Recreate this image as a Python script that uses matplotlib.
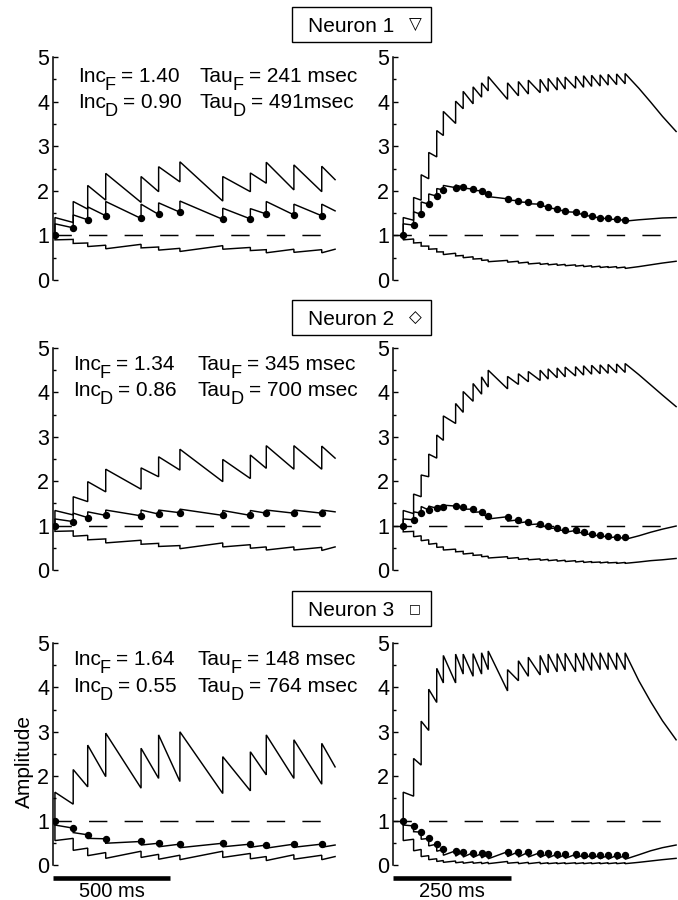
import matplotlib
matplotlib.use('Agg')
import matplotlib.pyplot as plt
from matplotlib.ticker import MultipleLocator
from matplotlib.patches import Rectangle

plt.rcParams['font.family'] = ['Liberation Sans', 'DejaVu Sans']
plt.rcParams['lines.scale_dashes'] = False

# ---------------- data ----------------
# spike times (ms)
LEFT_SPIKES = [0, 78, 140, 217, 368, 443, 534, 717, 835, 903, 1021, 1140]
LEFT_TAIL_T = [1197]
RIGHT_SPIKES = [21, 43, 59, 75, 92, 106, 132, 148, 169, 187, 201, 242, 265,
                286, 311, 328, 347, 364, 386, 403, 420, 438, 455, 473, 491]
RIGHT_TAIL_T = [520, 545, 570, 599]

NEURON_LABELS = ["Neuron 1", "Neuron 2", "Neuron 3"]
NEURON_SYMBOLS = ["\u25BD", "\u25C7", "\u25A1"]
INC_F = ["1.40", "1.34", "1.64"]
INC_D = ["0.90", "0.86", "0.55"]
TAU_F = ["241 msec", "345 msec", "148 msec"]
TAU_D = ["491msec", "700 msec", "764 msec"]

# Neuron 1, natural train
N1_L_F_PRE = [1.00, 1.29, 1.59, 1.79, 1.74, 1.98, 2.20, 1.77, 1.98, 2.17, 2.02, 1.98]
N1_L_F_POST = [1.40, 1.76, 2.12, 2.39, 2.32, 2.54, 2.65, 2.32, 2.40, 2.64, 2.58, 2.55]
N1_L_F_TAIL = [2.25]
N1_L_P_PRE = [1.00, 1.17, 1.35, 1.44, 1.38, 1.47, 1.52, 1.36, 1.37, 1.48, 1.46, 1.44]
N1_L_P_POST = [1.26, 1.46, 1.64, 1.76, 1.70, 1.73, 1.77, 1.61, 1.60, 1.76, 1.70, 1.70]
N1_L_P_TAIL = [1.55]
N1_L_D_PRE = [1.00, 0.91, 0.83, 0.78, 0.80, 0.74, 0.71, 0.77, 0.73, 0.68, 0.69, 0.68]
N1_L_D_POST = [0.90, 0.82, 0.75, 0.70, 0.72, 0.67, 0.64, 0.69, 0.66, 0.61, 0.62, 0.61]
N1_L_D_TAIL = [0.69]

# Neuron 1, regular train
N1_R_F_PRE = [1.00, 1.34, 1.79, 2.27, 2.76, 3.24, 3.51, 3.84, 3.95, 4.10, 4.24, 4.05, 4.13,
              4.17, 4.20, 4.23, 4.26, 4.28, 4.30, 4.32, 4.34, 4.35, 4.37, 4.38, 4.40]
N1_R_F_POST = [1.40, 1.85, 2.36, 2.86, 3.35, 3.78, 4.01, 4.23, 4.33, 4.42, 4.56, 4.42, 4.45,
               4.48, 4.50, 4.52, 4.54, 4.55, 4.57, 4.58, 4.59, 4.60, 4.61, 4.62, 4.63]
N1_R_F_TAIL = [4.30, 3.99, 3.67, 3.33]
N1_R_P_PRE = [1.00, 1.23, 1.47, 1.70, 1.88, 2.02, 2.07, 2.08, 2.04, 2.00, 1.93, 1.82, 1.78,
              1.74, 1.70, 1.64, 1.59, 1.55, 1.52, 1.47, 1.43, 1.40, 1.38, 1.36, 1.35]
N1_R_P_POST = [1.26, 1.53, 1.75, 1.93, 2.05, 2.12, 2.13, 2.06, 2.01, 1.94, 1.87, 1.79, 1.75,
               1.71, 1.67, 1.62, 1.57, 1.53, 1.50, 1.45, 1.41, 1.38, 1.36, 1.34, 1.32]
N1_R_P_TAIL = [1.35, 1.37, 1.39, 1.40]
N1_R_D_PRE = [1.00, 0.92, 0.84, 0.76, 0.70, 0.63, 0.60, 0.55, 0.52, 0.48, 0.45, 0.44, 0.42,
              0.40, 0.38, 0.37, 0.36, 0.35, 0.34, 0.33, 0.32, 0.31, 0.30, 0.30, 0.29]
N1_R_D_POST = [0.90, 0.83, 0.76, 0.69, 0.63, 0.57, 0.54, 0.50, 0.47, 0.44, 0.41, 0.40, 0.38,
               0.36, 0.35, 0.34, 0.33, 0.32, 0.31, 0.30, 0.29, 0.28, 0.28, 0.27, 0.26]
N1_R_D_TAIL = [0.30, 0.34, 0.38, 0.42]

# Neuron 2, natural train
N2_L_F_PRE = [1.00, 1.24, 1.54, 1.76, 1.82, 2.10, 2.25, 1.99, 2.06, 2.29, 2.27, 2.27]
N2_L_F_POST = [1.34, 1.65, 1.99, 2.27, 2.30, 2.55, 2.72, 2.49, 2.59, 2.80, 2.80, 2.79]
N2_L_F_TAIL = [2.52]
N2_L_P_PRE = [1.00, 1.09, 1.18, 1.23, 1.22, 1.26, 1.29, 1.23, 1.23, 1.28, 1.28, 1.28]
N2_L_P_POST = [1.15, 1.28, 1.31, 1.35, 1.35, 1.35, 1.37, 1.34, 1.34, 1.35, 1.35, 1.35]
N2_L_P_TAIL = [1.31]
N2_L_D_PRE = [1.00, 0.88, 0.78, 0.70, 0.67, 0.60, 0.55, 0.61, 0.57, 0.52, 0.52, 0.51]
N2_L_D_POST = [0.87, 0.76, 0.68, 0.61, 0.58, 0.53, 0.48, 0.52, 0.49, 0.45, 0.45, 0.44]
N2_L_D_TAIL = [0.52]

# Neuron 2, regular train
N2_R_F_PRE = [1.00, 1.27, 1.65, 2.10, 2.52, 2.92, 3.30, 3.55, 3.80, 3.96, 4.12, 4.08, 4.18,
              4.24, 4.27, 4.30, 4.33, 4.35, 4.37, 4.39, 4.41, 4.42, 4.43, 4.44, 4.45]
N2_R_F_POST = [1.34, 1.71, 2.14, 2.61, 3.04, 3.47, 3.75, 4.02, 4.20, 4.35, 4.50, 4.36, 4.42,
               4.47, 4.50, 4.53, 4.55, 4.57, 4.58, 4.60, 4.61, 4.62, 4.63, 4.64, 4.65]
N2_R_F_TAIL = [4.40, 4.17, 3.94, 3.68]
N2_R_P_PRE = [1.00, 1.13, 1.28, 1.35, 1.39, 1.43, 1.44, 1.41, 1.37, 1.31, 1.22, 1.20, 1.13,
              1.09, 1.04, 0.99, 0.95, 0.90, 0.89, 0.85, 0.81, 0.79, 0.77, 0.75, 0.74]
N2_R_P_POST = [1.15, 1.31, 1.43, 1.44, 1.44, 1.46, 1.41, 1.37, 1.30, 1.24, 1.15, 1.10, 1.06,
               1.02, 0.98, 0.93, 0.89, 0.85, 0.83, 0.80, 0.76, 0.74, 0.72, 0.70, 0.69]
N2_R_P_TAIL = [0.77, 0.85, 0.92, 0.99]
N2_R_D_PRE = [1.00, 0.87, 0.77, 0.68, 0.60, 0.52, 0.47, 0.42, 0.38, 0.34, 0.31, 0.30, 0.28,
              0.26, 0.25, 0.24, 0.23, 0.22, 0.21, 0.20, 0.19, 0.18, 0.18, 0.17, 0.17]
N2_R_D_POST = [0.86, 0.75, 0.66, 0.58, 0.51, 0.45, 0.41, 0.36, 0.33, 0.30, 0.27, 0.26, 0.24,
               0.23, 0.22, 0.21, 0.20, 0.19, 0.18, 0.17, 0.17, 0.16, 0.16, 0.15, 0.15]
N2_R_D_TAIL = [0.18, 0.21, 0.23, 0.26]

# Neuron 3, natural train
N3_L_F_PRE = [1.00, 1.37, 1.76, 1.99, 1.73, 1.95, 1.88, 1.61, 1.67, 2.03, 1.95, 1.82]
N3_L_F_POST = [1.64, 2.15, 2.70, 2.97, 2.63, 2.93, 3.00, 2.44, 2.55, 2.93, 2.82, 2.74]
N3_L_F_TAIL = [2.21]
N3_L_P_PRE = [1.00, 0.83, 0.68, 0.59, 0.53, 0.49, 0.47, 0.49, 0.47, 0.45, 0.47, 0.47]
N3_L_P_POST = [0.90, 0.73, 0.60, 0.49, 0.45, 0.41, 0.39, 0.41, 0.40, 0.38, 0.40, 0.40]
N3_L_P_TAIL = [0.45]
N3_L_D_PRE = [1.00, 0.60, 0.38, 0.28, 0.31, 0.24, 0.22, 0.31, 0.26, 0.19, 0.23, 0.22]
N3_L_D_POST = [0.55, 0.33, 0.21, 0.15, 0.17, 0.13, 0.12, 0.17, 0.14, 0.10, 0.13, 0.12]
N3_L_D_TAIL = [0.19]

# Neuron 3, regular train
N3_R_F_PRE = [1.00, 1.55, 2.25, 3.03, 3.66, 4.10, 4.10, 4.30, 4.25, 4.30, 4.40, 3.92, 4.15,
              4.25, 4.28, 4.33, 4.35, 4.37, 4.35, 4.38, 4.38, 4.40, 4.40, 4.40, 4.40]
N3_R_F_POST = [1.64, 2.40, 3.24, 3.96, 4.43, 4.72, 4.75, 4.75, 4.76, 4.78, 4.82, 4.40, 4.60,
               4.68, 4.72, 4.75, 4.76, 4.77, 4.77, 4.78, 4.78, 4.78, 4.78, 4.78, 4.78]
N3_R_F_TAIL = [4.15, 3.68, 3.25, 2.82]
N3_R_P_PRE = [1.00, 0.88, 0.74, 0.60, 0.47, 0.35, 0.32, 0.30, 0.28, 0.26, 0.24, 0.30, 0.30,
              0.29, 0.28, 0.26, 0.25, 0.24, 0.24, 0.23, 0.23, 0.23, 0.22, 0.22, 0.22]
N3_R_P_POST = [0.90, 0.75, 0.58, 0.43, 0.31, 0.22, 0.20, 0.18, 0.17, 0.16, 0.14, 0.19, 0.18,
               0.18, 0.17, 0.16, 0.15, 0.15, 0.15, 0.14, 0.14, 0.14, 0.13, 0.13, 0.13]
N3_R_P_TAIL = [0.23, 0.32, 0.39, 0.45]
N3_R_D_PRE = [1.00, 0.58, 0.35, 0.21, 0.14, 0.10, 0.09, 0.07, 0.07, 0.06, 0.06, 0.08, 0.06,
              0.06, 0.06, 0.05, 0.05, 0.05, 0.05, 0.05, 0.05, 0.05, 0.05, 0.05, 0.05]
N3_R_D_POST = [0.55, 0.32, 0.19, 0.12, 0.08, 0.06, 0.05, 0.04, 0.04, 0.03, 0.03, 0.04, 0.03,
               0.03, 0.03, 0.03, 0.03, 0.03, 0.03, 0.03, 0.03, 0.03, 0.03, 0.03, 0.03]
N3_R_D_TAIL = [0.06, 0.09, 0.12, 0.15]

PANELS = [
    [(N1_L_F_PRE, N1_L_F_POST, N1_L_F_TAIL), (N1_L_P_PRE, N1_L_P_POST, N1_L_P_TAIL),
     (N1_L_D_PRE, N1_L_D_POST, N1_L_D_TAIL)],
    [(N1_R_F_PRE, N1_R_F_POST, N1_R_F_TAIL), (N1_R_P_PRE, N1_R_P_POST, N1_R_P_TAIL),
     (N1_R_D_PRE, N1_R_D_POST, N1_R_D_TAIL)],
    [(N2_L_F_PRE, N2_L_F_POST, N2_L_F_TAIL), (N2_L_P_PRE, N2_L_P_POST, N2_L_P_TAIL),
     (N2_L_D_PRE, N2_L_D_POST, N2_L_D_TAIL)],
    [(N2_R_F_PRE, N2_R_F_POST, N2_R_F_TAIL), (N2_R_P_PRE, N2_R_P_POST, N2_R_P_TAIL),
     (N2_R_D_PRE, N2_R_D_POST, N2_R_D_TAIL)],
    [(N3_L_F_PRE, N3_L_F_POST, N3_L_F_TAIL), (N3_L_P_PRE, N3_L_P_POST, N3_L_P_TAIL),
     (N3_L_D_PRE, N3_L_D_POST, N3_L_D_TAIL)],
    [(N3_R_F_PRE, N3_R_F_POST, N3_R_F_TAIL), (N3_R_P_PRE, N3_R_P_POST, N3_R_P_TAIL),
     (N3_R_D_PRE, N3_R_D_POST, N3_R_D_TAIL)],
]

# ---------------- layout ----------------
W, H = 678, 900
fig = plt.figure(figsize=(W / 100, H / 100), dpi=100)
renderer = fig.canvas.get_renderer()

ROWS = [(57, 280), (348, 570), (643, 865)]       # pixel y of 5 and 0
LEFT_X = (53.3, 340)
RIGHT_X = (393.3, 678)
LEFT_XLIM = (-7, 1218)
RIGHT_XLIM = (0, 603)
BOX_TOP = [7, 300, 591]
LW = 1.05


def px_axes(x0, x1, ytop, ybot):
    return fig.add_axes([x0 / W, 1 - ybot / H, (x1 - x0) / W, (ybot - ytop) / H])


def trace_xy(times, pre, post, tail_t, tail_v):
    xs, ys = [], []
    for t, a, b in zip(times, pre, post):
        xs += [t, t]
        ys += [a, b]
    xs += list(tail_t)
    ys += list(tail_v)
    return xs, ys


def style_axes(ax, xlim):
    ax.set_xlim(*xlim)
    ax.set_ylim(0, 5)
    for s in ["top", "right", "bottom"]:
        ax.spines[s].set_visible(False)
    ax.spines["left"].set_linewidth(1.1)
    ax.set_xticks([])
    ax.set_yticks(range(6))
    ax.yaxis.set_minor_locator(MultipleLocator(0.5))
    ax.tick_params(axis="y", which="major", direction="in", length=3.5, width=1.0,
                   labelsize=15.5, pad=3)
    ax.tick_params(axis="y", which="minor", direction="in", length=2.5, width=1.0)
    ax.patch.set_alpha(0)


def rich(x_px, y_px, pieces, size=15):
    sp_a = fig.text(0, 0, "a a", fontsize=size)
    sp_b = fig.text(0, 0, "aa", fontsize=size)
    space = sp_a.get_window_extent(renderer).width - sp_b.get_window_extent(renderer).width
    sp_a.remove()
    sp_b.remove()
    x = x_px
    for s, sub in pieces:
        lead = len(s) - len(s.lstrip(" "))
        x += lead * space
        s = s.strip(" ")
        fs = size * 0.87 if sub else size
        dy = 0.38 * size * 100 / 72 if sub else 0
        t = fig.text(x / W, 1 - (y_px + dy) / H, s, fontsize=fs, ha="left", va="baseline")
        x += t.get_window_extent(renderer).width - 1.0


TEXT_POS = [(78, 82, 108), (73, 370, 396), (73, 665, 692)]
TAU_X = [200, 198, 198]

for r in range(3):
    ytop, ybot = ROWS[r]
    for c in range(2):
        if c == 0:
            ax = px_axes(LEFT_X[0], LEFT_X[1], ytop, ybot)
            times, tail_t, xlim = LEFT_SPIKES, LEFT_TAIL_T, LEFT_XLIM
        else:
            ax = px_axes(RIGHT_X[0], RIGHT_X[1], ytop, ybot)
            times, tail_t, xlim = RIGHT_SPIKES, RIGHT_TAIL_T, RIGHT_XLIM
        style_axes(ax, xlim)
        # dashed reference line at 1
        ax.plot([xlim[0], tail_t[-1]], [1, 1], color="black", lw=LW,
                linestyle=(0, (13.2, 12.4)))
        panel = PANELS[r * 2 + c]
        for pre, post, tail in panel:
            xs, ys = trace_xy(times, pre, post, tail_t, tail)
            ax.plot(xs, ys, color="black", lw=LW, solid_joinstyle="miter")
        p_pre = panel[1][0]
        ax.plot(times, p_pre, linestyle="none", marker="o", markersize=4.3,
                color="black")

    # parameter text
    x0, yb1, yb2 = TEXT_POS[r]
    rich(x0, yb1, [("Inc", False), ("F", True), (" = " + INC_F[r], False)])
    rich(TAU_X[r], yb1, [("Tau", False), ("F", True), (" = " + TAU_F[r], False)])
    rich(x0, yb2, [("Inc", False), ("D", True), (" = " + INC_D[r], False)])
    rich(TAU_X[r], yb2, [("Tau", False), ("D", True), (" = " + TAU_D[r], False)])

    # neuron label box
    bt = BOX_TOP[r]
    fig.patches.append(Rectangle((292 / W, 1 - (bt + 35) / H), 139 / W, 35 / H,
                                 transform=fig.transFigure, fill=False,
                                 edgecolor="black", lw=1.0))
    fig.text(308 / W, 1 - (bt + 25) / H, NEURON_LABELS[r], fontsize=15,
             ha="left", va="baseline")
    sym_size = [12, 12, 9][r]
    fig.text(415 / W, 1 - (bt + 18) / H, NEURON_SYMBOLS[r], fontsize=sym_size,
             ha="center", va="center", family=["DejaVu Sans"])

# y label
fig.text(24 / W, 1 - 762 / H, "Amplitude", fontsize=15, rotation=90,
         ha="center", va="center")

# scale bars
lax = fig.axes[4]
rax = fig.axes[5]
lax.plot([LEFT_XLIM[0], LEFT_XLIM[0] + 500], [-0.29, -0.29], color="black", lw=3.3,
         solid_capstyle="butt", clip_on=False)
rax.plot([RIGHT_XLIM[0], RIGHT_XLIM[0] + 250], [-0.29, -0.29], color="black", lw=3.3,
         solid_capstyle="butt", clip_on=False)
fig.text(112 / W, 1 - 897 / H, "500 ms", fontsize=14.5, ha="center", va="baseline")
fig.text(452 / W, 1 - 897 / H, "250 ms", fontsize=14.5, ha="center", va="baseline")

fig.savefig("out.png", dpi=100)
